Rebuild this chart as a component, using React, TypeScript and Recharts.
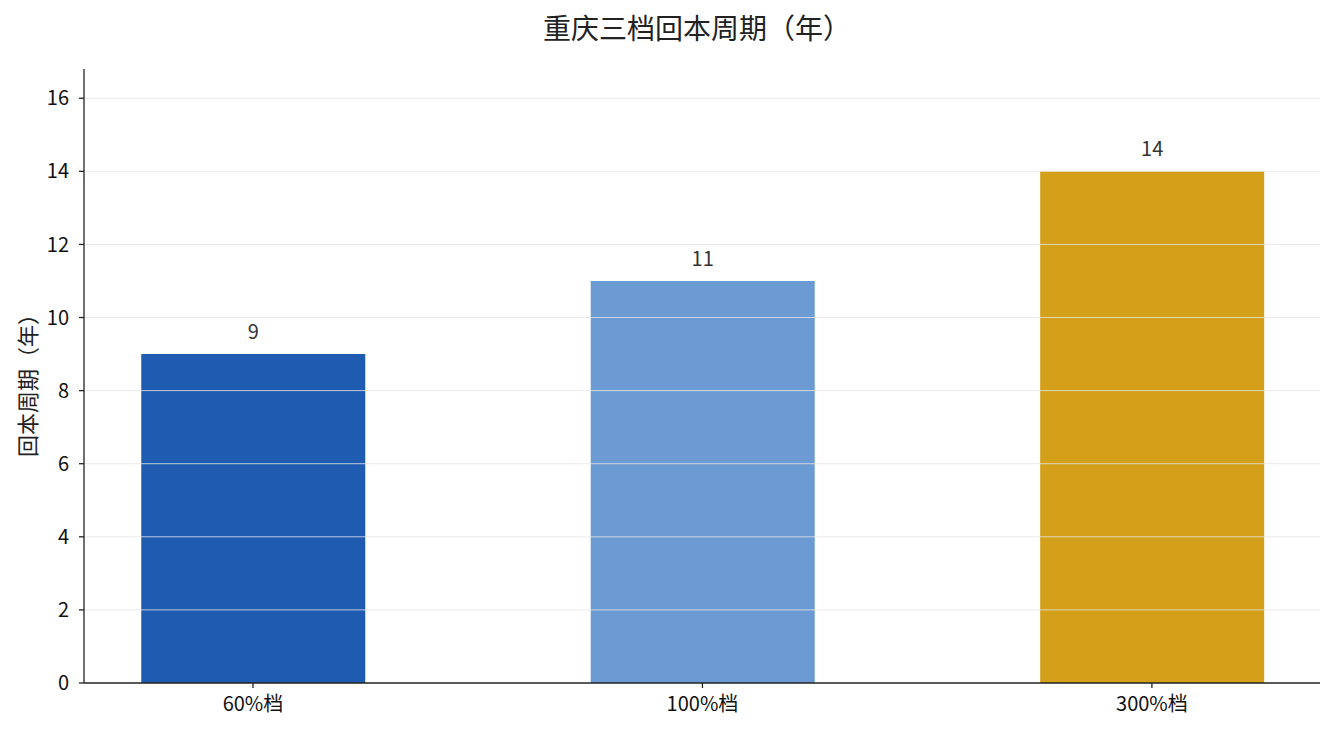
import React from 'react';
import { BarChart, Bar, XAxis, YAxis, ReferenceLine, LabelList, Cell } from 'recharts';

const categories = ['60%档', '100%档', '300%档'];
const paybackYears = [9, 11, 14];
const barColors = ['#1f5bb0', '#6b9bd2', '#d4a01a'];
const yTicks = [0, 2, 4, 6, 8, 10, 12, 14, 16];

const data = categories.map((name, i) => ({ idx: i, name, years: paybackYears[i] }));

const FONT = '"Noto Sans CJK SC", "Noto Sans", sans-serif';

export default function App() {
  return (
    <div style={{ position: 'relative', width: 1335, height: 735, fontFamily: FONT }}>
      <style>{`body { margin: 0; }`}</style>
      <div
        style={{
          position: 'absolute',
          left: 0,
          width: 1394,
          top: 7,
          textAlign: 'center',
          fontSize: 28,
          lineHeight: '40px',
          color: '#222',
        }}
      >
        重庆三档回本周期（年）
      </div>
      <div
        style={{
          position: 'absolute',
          left: 26,
          top: 380,
          transform: 'translate(-50%, -50%) rotate(-90deg)',
          whiteSpace: 'nowrap',
          fontSize: 22,
          color: '#222',
        }}
      >
        回本周期（年）
      </div>
      <BarChart
        width={1335}
        height={735}
        data={data}
        margin={{ top: 69, right: 15, left: 0, bottom: 22 }}
      >
        <XAxis
          dataKey="idx"
          type="number"
          domain={[-0.376, 2.374]}
          ticks={[0, 1, 2]}
          tickFormatter={(v) => categories[v] ?? ''}
          height={30}
          axisLine={{ stroke: '#222', strokeWidth: 1.3 }}
          tickLine={{ stroke: '#222', strokeWidth: 1.3 }}
          tickSize={5}
          tickMargin={9}
          tick={{ fill: '#111', fontSize: 20, fontFamily: FONT }}
          allowDataOverflow
        />
        <YAxis
          type="number"
          domain={[0, 16.8]}
          ticks={yTicks}
          width={84}
          axisLine={{ stroke: '#222', strokeWidth: 1.3 }}
          tickLine={{ stroke: '#222', strokeWidth: 1.3 }}
          tickSize={5}
          tickMargin={10}
          tick={{ fill: '#111', fontSize: 20, fontFamily: FONT }}
          allowDataOverflow
        />
        <Bar dataKey="years" barSize={224} isAnimationActive={false}>
          {data.map((d, i) => (
            <Cell key={d.name} fill={barColors[i]} />
          ))}
          <LabelList
            dataKey="years"
            position="top"
            offset={15}
            fill="#333"
            fontSize={20}
            fontFamily={FONT}
          />
        </Bar>
        {yTicks.slice(1).map((t) => (
          <ReferenceLine key={t} y={t} stroke="#e6e6e6" strokeOpacity={0.8} strokeWidth={1} />
        ))}
      </BarChart>
    </div>
  );
}
